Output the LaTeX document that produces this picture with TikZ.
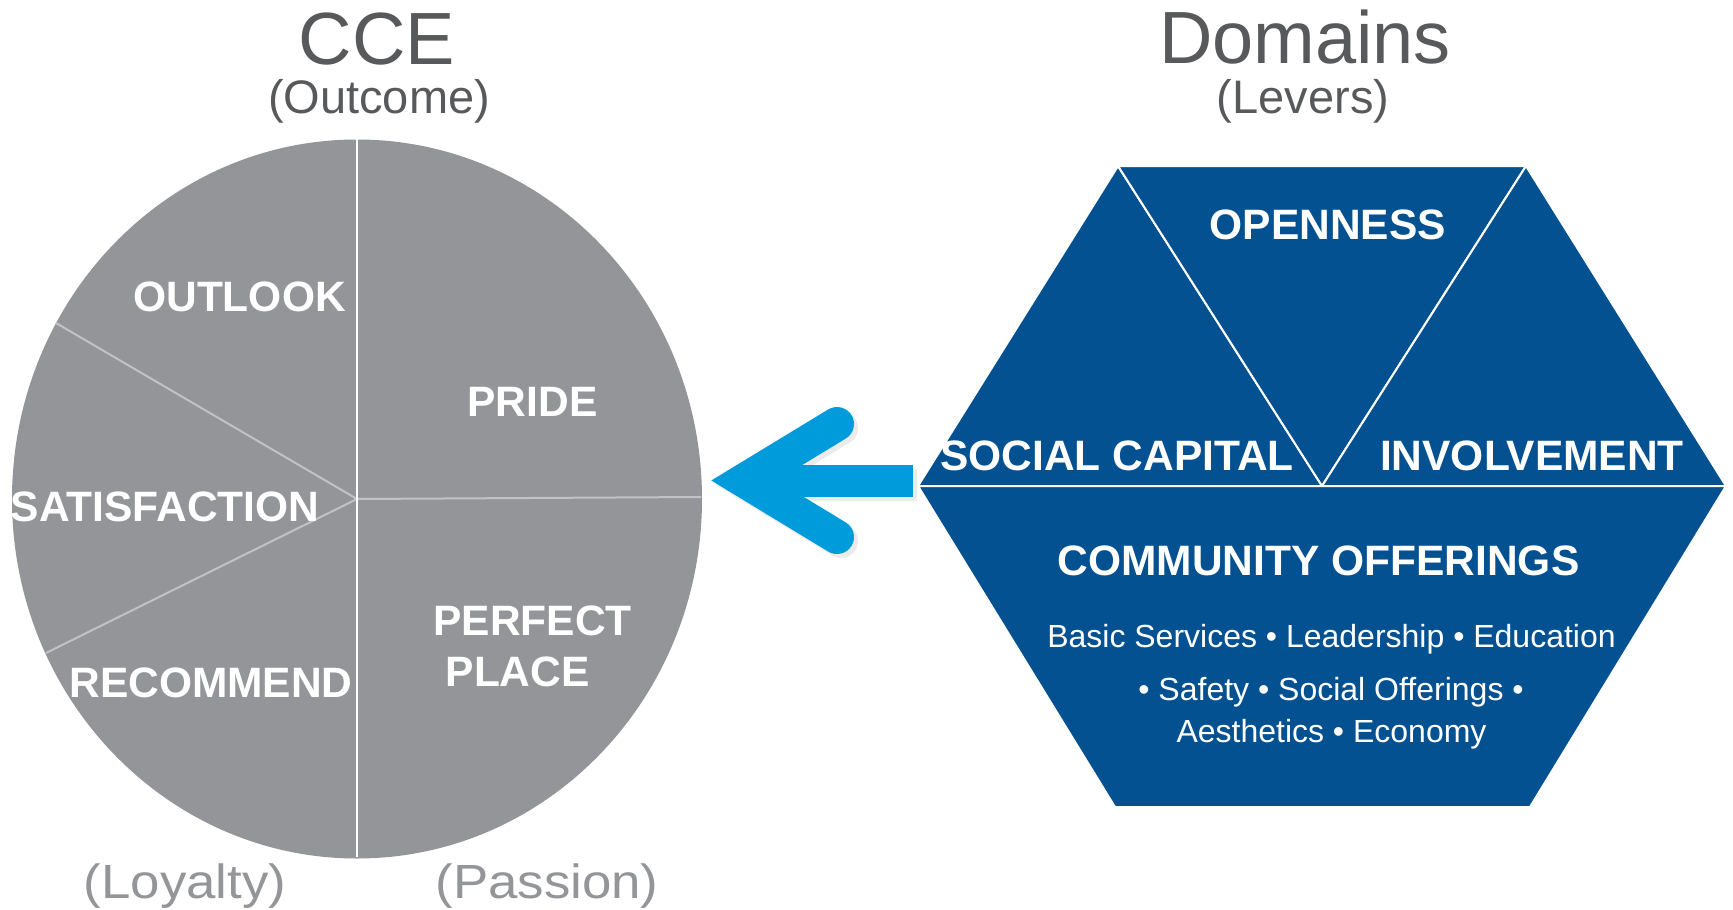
\documentclass[tikz,border=0pt]{standalone}
\usepackage{fontspec}
\setmainfont{Liberation Sans}
\definecolor{piegrey}{RGB}{147,149,152}
\definecolor{titlegrey}{RGB}{88,89,91}
\definecolor{hexblue}{RGB}{3,81,145}
\definecolor{arrowblue}{RGB}{0,155,219}
\definecolor{divline}{RGB}{192,194,196}
\begin{document}
\begin{tikzpicture}[x=1pt,y=-1pt,
  lbl/.style={text=white,font=\fontsize{42.5}{50}\selectfont\bfseries,inner sep=0pt,anchor=base},
  body/.style={text=white,font=\fontsize{32}{38}\selectfont,inner sep=0pt,anchor=base},
  title/.style={text=titlegrey,font=\fontsize{74}{80}\selectfont,inner sep=0pt,anchor=base},
  sub/.style={text=titlegrey,font=\fontsize{47}{54}\selectfont,inner sep=0pt,anchor=base},
  subl/.style={text=piegrey,font=\fontsize{48}{54}\selectfont,inner sep=0pt,anchor=base},
  hexpart/.style={fill=hexblue,draw=white,line width=2pt,line join=round},
  radial/.style={draw=divline,line width=2pt},
  arrowpart/.style={arrowblue}]
\useasboundingbox (0,0) rectangle (1733,910);

% ---------- pie ----------
\coordinate (pc) at (357,499);
\fill[piegrey] (pc) ellipse [x radius=345pt, y radius=359.5pt];
\coordinate (pr) at (701,497);
\coordinate (pul) at (56,323);
\coordinate (pll) at (46,653);
\coordinate (ptop) at (357,138);
\coordinate (pbot) at (357,857);
\draw[radial] (pc) -- (pr);
\draw[radial] (pc) -- (pul);
\draw[radial] (pc) -- (pll);
\draw[white,line width=2.5pt] (ptop) -- (pbot);

\node[lbl] (outlook) at (239.5,311.5) {OUTLOOK};
\node[lbl] (pride) at (532.5,416.6) {PRIDE};
\node[lbl] (satis) at (165,521) {SATISFACTION};
\node[lbl] (recom) at (211,697) {RECOMMEND};
\node[lbl] (perfect) at (532.5,635) {PERFECT};
\node[lbl] (place) at (517.7,686) {PLACE};

% ---------- titles ----------
\node[title] (cce) at (377,64) {CCE};
\node[sub] (outcome) at (379,113) {(Outcome)};
\node[title] (dom) at (1305,63) {Domains};
\node[sub] (levers) at (1303,113) {(Levers)};
\node[subl] (loy) at (185,898) {\scalebox{1.1}[1]{(Loyalty)}};
\node[subl] (pas) at (547,898) {\scalebox{1.1}[1]{(Passion)}};

% ---------- arrow ----------
\fill[black,opacity=0.08] (774,469) rectangle (917,501);
\draw[black,opacity=0.08,line width=34pt,line cap=round,line join=miter] (841,428) -- (748,484.5) -- (841,541);
\fill[arrowpart] (770,465) rectangle (913,497);
\draw[arrowpart,line width=34pt,line cap=round,line join=miter] (837,424) -- (744,480.5) -- (837,537);

% ---------- hexagon ----------
\coordinate (hl) at (918,486);
\coordinate (htl) at (1118,166);
\coordinate (htr) at (1526,166);
\coordinate (hr) at (1726,486);
\coordinate (hbr) at (1530,807);
\coordinate (hbl) at (1115,807);
\coordinate (hm) at (1322,486);
\filldraw[hexpart] (hl) -- (htl) -- (hm) -- cycle;
\filldraw[hexpart] (htl) -- (htr) -- (hm) -- cycle;
\filldraw[hexpart] (hm) -- (htr) -- (hr) -- cycle;
\filldraw[hexpart] (hl) -- (hr) -- (hbr) -- (hbl) -- cycle;

\node[lbl] (open) at (1327.7,239) {OPENNESS};
\node[lbl] (social) at (1117,470.4) {SOCIAL CAPITAL};
\node[lbl] (invol) at (1532,470) {INVOLVEMENT};
\node[lbl] (commun) at (1318.5,575) {COMMUNITY OFFERINGS};
\node[body] (b1) at (1331.5,647.4) {Basic Services • Leadership • Education};
\node[body] (b2) at (1331,700.7) {• Safety • Social Offerings •};
\node[body] (b3) at (1331.5,742.8) {Aesthetics • Economy};
\end{tikzpicture}
\end{document}
